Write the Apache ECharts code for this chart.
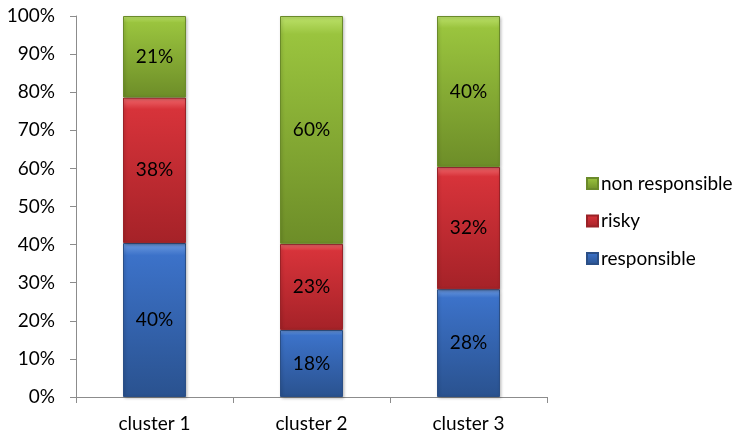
<!DOCTYPE html>
<html>
<head>
<meta charset="utf-8">
<script src="https://cdn.jsdelivr.net/npm/echarts@6/dist/echarts.min.js"></script>
<style>
  html, body { margin: 0; padding: 0; background: #fff; }
  #chart { width: 737px; height: 434px; }
</style>
</head>
<body>
<div id="chart"></div>
<script>
// Shares per cluster (percent of each cluster)
const categories = ['cluster 1', 'cluster 2', 'cluster 3'];
const responsible = [40.4, 17.6, 28.3];
const risky = [38.2, 22.6, 32.1];
const nonResponsible = [21.4, 59.8, 39.6];
const yTicks = [0, 10, 20, 30, 40, 50, 60, 70, 80, 90, 100];

const FONT = 'Lato, "Open Sans", sans-serif';
const FS = 19;

function grad(top, mid, bottom) {
  return new echarts.graphic.LinearGradient(0, 0, 0, 1, [
    { offset: 0, color: top },
    { offset: 0.08, color: mid },
    { offset: 1, color: bottom }
  ]);
}

function barSeries(name, data, fill, border) {
  return {
    name: name,
    type: 'bar',
    stack: 'total',
    barWidth: 63,
    data: data,
    itemStyle: {
      color: fill,
      borderColor: border,
      borderWidth: 1,
      shadowColor: 'rgba(0,0,0,0.25)',
      shadowBlur: 3,
      shadowOffsetX: 1,
      shadowOffsetY: 1
    },
    label: {
      show: true,
      position: 'inside',
      color: '#000',
      fontFamily: FONT,
      fontSize: FS,
      formatter: p => Math.round(p.value) + '%'
    }
  };
}

const chart = echarts.init(document.getElementById('chart'));
chart.setOption({
  animation: false,
  backgroundColor: '#fff',
  grid: { left: 76, right: 190, top: 16, bottom: 37, containLabel: false },
  legend: {
    orient: 'vertical',
    left: 581,
    top: 169,
    itemWidth: 11,
    itemHeight: 11,
    itemGap: 18.5,
    icon: 'rect',
    data: ['non responsible', 'risky', 'responsible'],
    textStyle: { fontFamily: FONT, fontSize: FS, lineHeight: 19, color: '#000', padding: [0, 0, 0, -2] }
  },
  xAxis: {
    type: 'category',
    data: categories,
    axisLine: { lineStyle: { color: '#8c8c8c' } },
    axisTick: { show: true, alignWithLabel: false, length: 6, lineStyle: { color: '#8c8c8c' } },
    axisLabel: { color: '#000', fontFamily: FONT, fontSize: FS, margin: 17 }
  },
  yAxis: {
    type: 'value',
    min: yTicks[0],
    max: yTicks[yTicks.length - 1],
    interval: 10,
    axisLine: { show: true, lineStyle: { color: '#8c8c8c' } },
    axisTick: { show: true, length: 6, lineStyle: { color: '#8c8c8c' } },
    splitLine: { show: false },
    axisLabel: { color: '#000', fontFamily: FONT, fontSize: FS, margin: 21, formatter: '{value}%' }
  },
  series: [
    barSeries('responsible', responsible, grad('#6d9be0', '#3c72c9', '#2a528f'), '#2b4f86'),
    barSeries('risky', risky, grad('#f06a6e', '#d7333a', '#a52228'), '#9a2227'),
    barSeries('non responsible', nonResponsible, grad('#bde26b', '#9ac43e', '#6d8d28'), '#6a8a2a')
  ]
});
</script>
</body>
</html>
